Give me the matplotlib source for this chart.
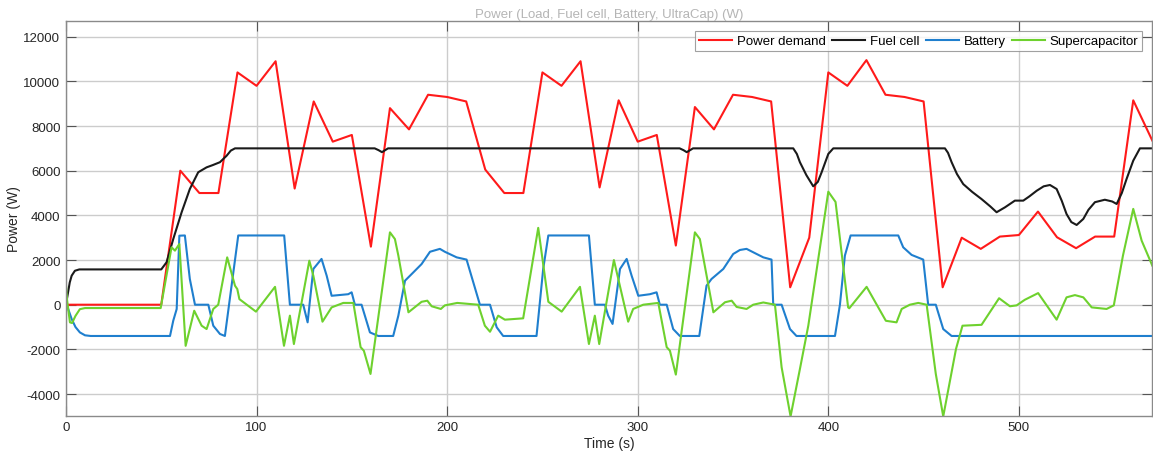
import numpy as np
import matplotlib
matplotlib.use('Agg')
import matplotlib.pyplot as plt

plt.rcParams['font.family'] = ['Liberation Sans', 'DejaVu Sans']
plt.rcParams['axes.unicode_minus'] = False

# power demand (load profile)
t_dem = [0, 50, 60, 70, 80, 90, 100, 110, 120, 130, 140, 150, 160, 170, 180, 190,
         200, 210, 220, 230, 240, 250, 260, 270, 280, 290, 300, 310, 320, 330, 340,
         350, 360, 370, 380, 390, 400, 410, 420, 430, 440, 450, 460, 470, 480, 490,
         500, 510, 520, 530, 540, 550, 560, 570]
p_dem = [0, 0, 6000, 5000, 5000, 10400, 9800, 10900, 5200, 9100, 7300, 7600, 2600,
         8800, 7850, 9400, 9300, 9100, 6050, 5000, 5000, 10400, 9800, 10900, 5250,
         9150, 7300, 7600, 2650, 8850, 7850, 9400, 9300, 9100, 780, 3000, 10400,
         9800, 10950, 9400, 9300, 9100, 780, 3000, 2500, 3050, 3120, 4170, 3020,
         2530, 3050, 3050, 9150, 7350]

# fuel cell output
t_fc = [0, 1, 2, 3, 4.7, 7, 50, 52.8, 56.3, 60.7, 65, 69.4, 73.8, 77, 80.8, 84.3,
        86.5, 88.7, 162, 164, 165.8, 167.5, 169, 322, 324, 325.7, 327.5, 329,
        381.6, 383.5, 385.1, 388.5, 392.1, 394.5, 396.5, 398.5, 400, 402.6,
        461.2, 462.8, 464.7, 467.5, 470.8, 475.5, 480.4, 485, 488.3, 492.7, 497.9,
        502.3, 505.5, 509.3, 513, 516.3, 519.8, 522.5, 525, 527.5, 530.3, 533.8,
        536.5, 539.9, 545.1, 549, 551.3, 554, 556.5, 560, 563.5, 570]
p_fc = [0, 500, 1000, 1300, 1520, 1580, 1580, 1900, 2940, 4140, 5180, 5930, 6150,
        6250, 6380, 6670, 6900, 7000, 7000, 6920, 6830, 6920, 7000, 7000, 6920,
        6830, 6920, 7000, 7000, 6750, 6380, 5800, 5300, 5500, 5930, 6400, 6750,
        7000, 7000, 6800, 6380, 5850, 5400, 5050, 4730, 4400, 4140, 4360, 4660,
        4660, 4850, 5100, 5300, 5360, 5180, 4650, 4060, 3700, 3570, 3840, 4250,
        4590, 4700, 4620, 4510, 5000, 5630, 6450, 7000, 7000]

# battery
t_bat = [0, 1, 3, 5, 7.3, 10, 13, 54.6, 56.3, 58.1, 59.5, 62.4, 65, 67.7, 74.7,
         77.3, 80.8, 83.4, 86.9, 90.4, 114.5, 117.5, 124.5, 126.8, 129.8, 134.1,
         136.8, 139.4, 148.1, 149.9, 151.6, 155.1, 159.5, 163.9, 171.7, 174.4,
         177.9, 182.3, 186.6, 191, 196.2, 198.8, 205, 210.2, 217.2, 222.5, 226,
         229.4, 246.9, 250.4, 253.1, 274.4, 277.5, 282.8, 284.5, 286.8, 290.7,
         294.2, 296.8, 300.3, 306.4, 309.9, 311.6, 315.2, 318.6, 322.1, 332.3,
         336.1, 338.7, 344.9, 350.1, 353.6, 357.1, 362.4, 365.9, 370.2, 371.1,
         375.5, 379.9, 383.3, 403.5, 406.1, 408.7, 411.7, 436.7, 439.3, 443.7,
         449.8, 452.4, 456.4, 460.3, 464.7, 570]
p_bat = [0, -150, -640, -1000, -1240, -1370, -1400, -1400, -716, -193, 3090, 3100,
         1150, 0, 0, -940, -1310, -1400, 850, 3100, 3100, 0, 0, -790, 1600, 2050,
         1300, 400, 470, 555, 0, 0, -1240, -1400, -1400, -490, 1075, 1450, 1820,
         2370, 2500, 2370, 2120, 2020, 0, 0, -1010, -1400, -1400, 1600, 3100, 3100,
         0, 0, -490, -860, 1600, 2050, 1300, 400, 470, 555, 0, 0, -1090, -1400,
         -1400, 850, 1150, 1600, 2270, 2450, 2500, 2270, 2120, 2020, 0, 0, -1090,
         -1400, -1400, 0, 2200, 3100, 3100, 2570, 2230, 2020, 0, 0, -1090, -1400,
         -1400]

# supercapacitor
t_sc = [0, 0.6, 2.1, 3.2, 5, 7.3, 10, 49.7, 55.4, 57.2, 59.5, 62.8, 67.3, 71.2,
        73.8, 77.3, 79.9, 84.6, 88.7, 89.9, 91, 99.7, 109.7, 114.4, 117.5, 119.6,
        127.7, 129.8, 134.6, 139.4, 145.5, 150.8, 154.6, 156.3, 159.8, 170, 172.6,
        174.4, 179.7, 186.6, 189.6, 191.9, 196.7, 198.8, 205.3, 216.3, 219.8,
        222.5, 226.8, 230.3, 239.9, 247.8, 253.1, 260.1, 269.7, 274.4, 277.5,
        279.8, 287.5, 295, 297.6, 302.9, 310.8, 315.2, 316.9, 320, 330, 332.6,
        339.7, 345.8, 349.3, 351.9, 357.1, 360.6, 365.9, 372, 375.5, 380.2, 385.1,
        389.5, 400, 403.8, 410.4, 411, 420.1, 430.2, 435.8, 438.5, 442.8, 447.2,
        451.6, 456.4, 460.3, 467, 470.4, 480.4, 489.6, 495.3, 498.8, 503.1, 510.1,
        519.8, 525, 529.4, 533.8, 538.2, 546, 549.8, 554.6, 560, 564.4, 570]
p_sc = [900, 200, -790, -820, -500, -200, -150, -150, 2570, 2420, 2720, -1840,
        -270, -940, -1090, -190, 0, 2120, 850, 700, 250, -310, 800, -1840, -490,
        -1760, 1970, 1300, -760, -120, 80, 80, -1900, -2060, -3100, 3240, 2940,
        2200, -340, 130, 180, -70, -190, -30, 80, 0, -940, -1210, -490, -670,
        -610, 3440, 130, -310, 800, -1760, -490, -1760, 2000, -760, -190, 0, 80,
        -1900, -2060, -3130, 3240, 2940, -340, 110, 180, -100, -190, 0, 100, 0,
        -2800, -5000, -2880, -940, 5060, 4600, -120, -160, 800, -720, -790, -190,
        0, 80, 0, -3100, -5000, -1980, -940, -900, 290, -70, -30, 220, 520, -670,
        330, 430, 330, -120, -190, -30, 2200, 4290, 2870, 1750]

fig = plt.figure(figsize=(11.53, 4.64), dpi=100)
ax = fig.add_axes([0.0572, 0.1019, 0.9422, 0.8506])

lw = 1.5
ax.plot(t_dem, p_dem, color='#ff1a1a', lw=lw, label='Power demand')
ax.plot(t_fc, p_fc, color='#1a1a1a', lw=lw, label='Fuel cell')
ax.plot(t_bat, p_bat, color='#1f7fce', lw=lw, label='Battery')
ax.plot(t_sc, p_sc, color='#6ed12e', lw=lw, label='Supercapacitor')

ax.set_xlim(0, 570)
ax.set_ylim(-4970, 12700)
ax.set_xticks(np.arange(0, 600, 100))
ax.set_yticks(np.arange(-4000, 12001, 2000))
ax.grid(True, color='#cccccc', lw=1)
ax.set_axisbelow(True)
ax.tick_params(direction='in', length=7, width=0.8, color='#555555',
               labelsize=9.5, labelcolor='#262626', top=True, right=True,
               labeltop=False, labelright=False, pad=4)
for s in ax.spines.values():
    s.set_color('#8a8a8a')
    s.set_linewidth(1)

ax.set_xlabel('Time (s)', fontsize=10, color='#262626', labelpad=2)
ax.set_ylabel('Power (W)', fontsize=10, color='#262626', labelpad=1.5)
ax.set_title('Power (Load, Fuel cell, Battery, UltraCap) (W)', fontsize=9.5,
             color='#b5b5b5', pad=3)

leg = ax.legend(loc='upper right', ncol=4, fontsize=9.5, frameon=True,
                fancybox=False, handlelength=2.5, handletextpad=0.35,
                columnspacing=0.5, borderpad=0.3, borderaxespad=0.75)
leg.get_frame().set_edgecolor('#8a8a8a')
leg.get_frame().set_linewidth(0.8)

fig.savefig('out.png', dpi=100)
